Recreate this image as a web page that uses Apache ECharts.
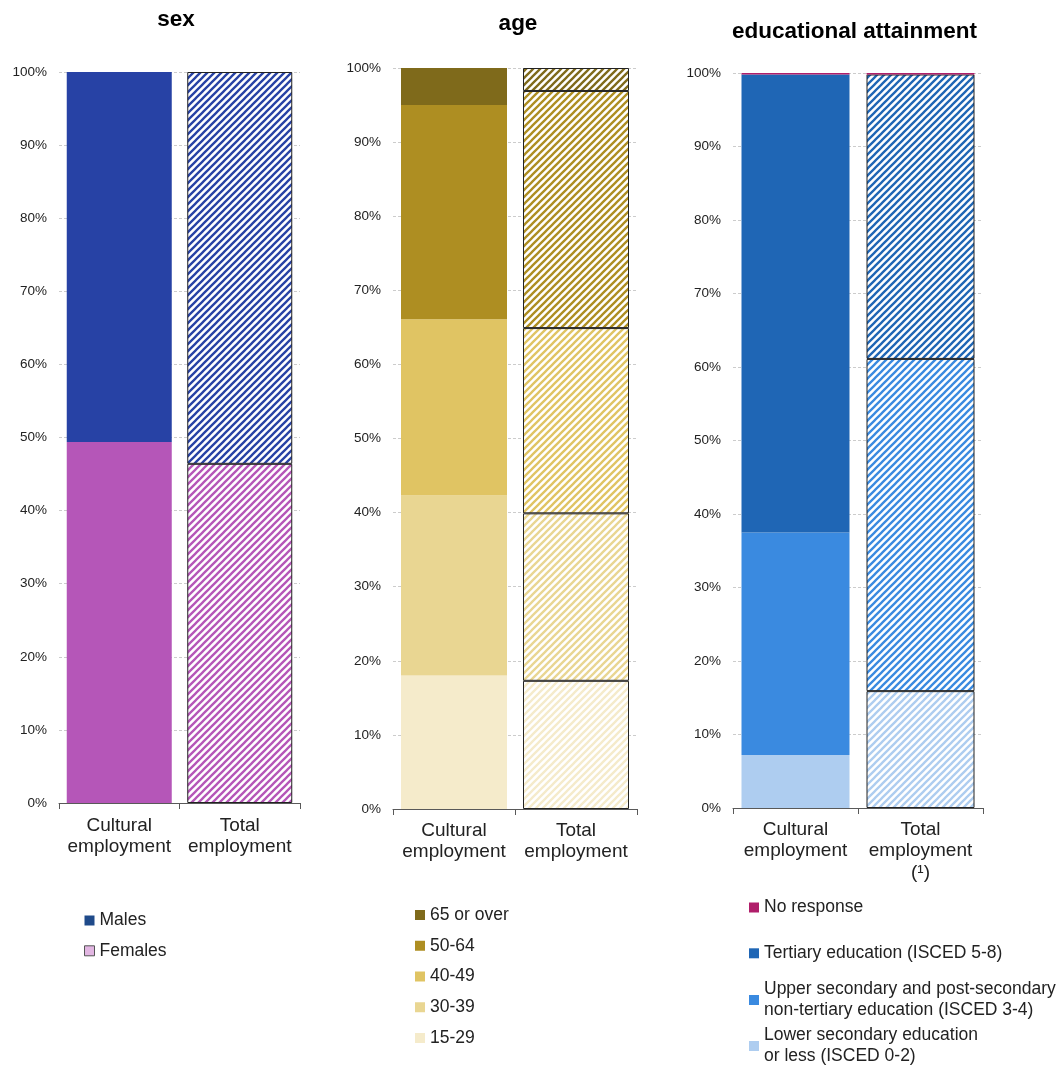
<!DOCTYPE html>
<html>
<head>
<meta charset="utf-8">
<script src="https://cdn.jsdelivr.net/npm/echarts@6/dist/echarts.min.js"></script>
<style>
  html, body { margin: 0; padding: 0; background: #ffffff; }
  #chart { width: 1059px; height: 1077px; }
</style>
</head>
<body>
<div id="chart"></div>
<script>
// Category labels
const categories = ['Cultural\nemployment', 'Total\nemployment'];
const categoriesEdu = ['Cultural\nemployment', 'Total\nemployment\n(¹)'];
const panelTitles = ['sex', 'age', 'educational attainment'];

// Shares (%) — [cultural employment, total employment]
const females = [49.4, 46.4];
const males = [50.6, 53.6];

const age15to29 = [18.0, 17.3];
const age30to39 = [24.3, 22.6];
const age40to49 = [23.8, 25.0];
const age50to64 = [28.9, 32.0];
const age65over = [5.0, 3.1];

const eduLower = [7.2, 15.9];
const eduUpper = [30.3, 45.2];
const eduTertiary = [62.3, 38.7];
const eduNoResponse = [0.2, 0.2];

const FONT = '"Liberation Sans", Arial, sans-serif';

// Diagonal stripe fill used for the total-employment bars
function hatch(color) {
  const s = 7;
  const c = document.createElement('canvas');
  c.width = s; c.height = s;
  const g = c.getContext('2d');
  g.fillStyle = '#ffffff';
  g.fillRect(0, 0, s, s);
  g.strokeStyle = color;
  g.lineWidth = 2.3;
  g.beginPath();
  g.moveTo(0, s); g.lineTo(s, 0);
  g.moveTo(-s / 2, s / 2); g.lineTo(s / 2, -s / 2);
  g.moveTo(s / 2, s * 1.5); g.lineTo(s * 1.5, s / 2);
  g.stroke();
  return { image: c, repeat: 'repeat' };
}

function stackSeries(name, values, color, gi, barWidth, solidTotal) {
  return {
    type: 'bar',
    name: name,
    stack: 'panel' + gi,
    xAxisIndex: gi,
    yAxisIndex: gi,
    barWidth: barWidth,
    itemStyle: { color: color },
    emphasis: { disabled: true },
    data: [
      { value: values[0] },
      solidTotal
        ? { value: values[1] }
        : { value: values[1], itemStyle: { color: hatch(color), borderColor: '#222', borderWidth: 1 } }
    ]
  };
}

const grids = [
  { left: 59, top: 72, width: 241, height: 731 },
  { left: 393, top: 68, width: 244, height: 741 },
  { left: 733, top: 73, width: 250, height: 735 }
];

const xAxes = grids.map((g, i) => ({
  type: 'category',
  gridIndex: i,
  data: i === 2 ? categoriesEdu : categories,
  axisLine: { lineStyle: { color: '#595959', width: 1 } },
  axisTick: { show: true, length: 6, lineStyle: { color: '#595959' } },
  axisLabel: {
    color: '#222', fontSize: 19, lineHeight: 21.5, fontFamily: FONT,
    margin: i === 0 ? 12 : 11, interval: 0
  }
}));

const yAxes = grids.map((g, i) => ({
  type: 'value',
  gridIndex: i,
  min: 0, max: 100, interval: 10,
  axisLine: { show: false },
  axisTick: { show: false },
  splitLine: { lineStyle: { color: '#cccccc', type: [3, 2], width: 1 } },
  axisLabel: { formatter: '{value}%', color: '#222', fontSize: 13.5, fontFamily: FONT, margin: 12 }
}));

const series = [
  stackSeries('Females', females, '#B556B8', 0, 105),
  stackSeries('Males', males, '#2742A5', 0, 105),

  stackSeries('15-29', age15to29, '#F5EBCB', 1, 106),
  stackSeries('30-39', age30to39, '#E9D692', 1, 106),
  stackSeries('40-49', age40to49, '#E0C463', 1, 106),
  stackSeries('50-64', age50to64, '#AE8E22', 1, 106),
  stackSeries('65 or over', age65over, '#7F6A1B', 1, 106),

  stackSeries('Lower secondary education\nor less (ISCED 0-2)', eduLower, '#AECDF0', 2, 108),
  stackSeries('Upper secondary and post-secondary\nnon-tertiary education (ISCED 3-4)', eduUpper, '#3A8AE0', 2, 108),
  stackSeries('Tertiary education (ISCED 5-8)', eduTertiary, '#1F66B5', 2, 108),
  stackSeries('No response', eduNoResponse, '#B01E6A', 2, 108, true)
];

const legendText = { color: '#222', fontSize: 17.5, lineHeight: 20, fontFamily: FONT };
const legendBase = {
  orient: 'vertical', padding: 0, icon: 'rect', itemWidth: 10, itemHeight: 10,
  selectedMode: false, textStyle: legendText
};
const twoLineText = Object.assign({}, legendText, { lineHeight: 21, padding: [21, 0, 0, 0] });

const legends = [
  Object.assign({}, legendBase, {
    left: 84, top: 910.5, itemGap: 10.3,
    data: [
      { name: 'Males', itemStyle: { color: '#1F4A8A' } },
      { name: 'Females', itemStyle: { color: '#E2B6E2', borderColor: '#555', borderWidth: 1 } }
    ]
  }),
  Object.assign({}, legendBase, {
    left: 415, top: 905, itemGap: 10.75,
    data: ['65 or over', '50-64', '40-49', '30-39', '15-29']
  }),
  Object.assign({}, legendBase, { left: 749, top: 897.5, data: ['No response'] }),
  Object.assign({}, legendBase, { left: 749, top: 943.3, data: ['Tertiary education (ISCED 5-8)'] }),
  Object.assign({}, legendBase, {
    left: 749, top: 968.5, textStyle: twoLineText,
    data: ['Upper secondary and post-secondary\nnon-tertiary education (ISCED 3-4)']
  }),
  Object.assign({}, legendBase, {
    left: 749, top: 1014.5, textStyle: twoLineText,
    data: ['Lower secondary education\nor less (ISCED 0-2)']
  })
];

const titleCentres = [[176, 20], [518, 23.5], [854.5, 32]];
const titleGraphics = panelTitles.map((t, i) => ({
  type: 'text',
  x: titleCentres[i][0],
  y: titleCentres[i][1],
  style: {
    text: t, align: 'center', verticalAlign: 'middle',
    font: 'bold 22.5px ' + FONT, fill: '#000'
  }
}));

const chart = echarts.init(document.getElementById('chart'));
chart.setOption({
  animation: false,
  backgroundColor: '#ffffff',
  grid: grids,
  xAxis: xAxes,
  yAxis: yAxes,
  legend: legends,
  graphic: titleGraphics,
  series: series
});
</script>
</body>
</html>
